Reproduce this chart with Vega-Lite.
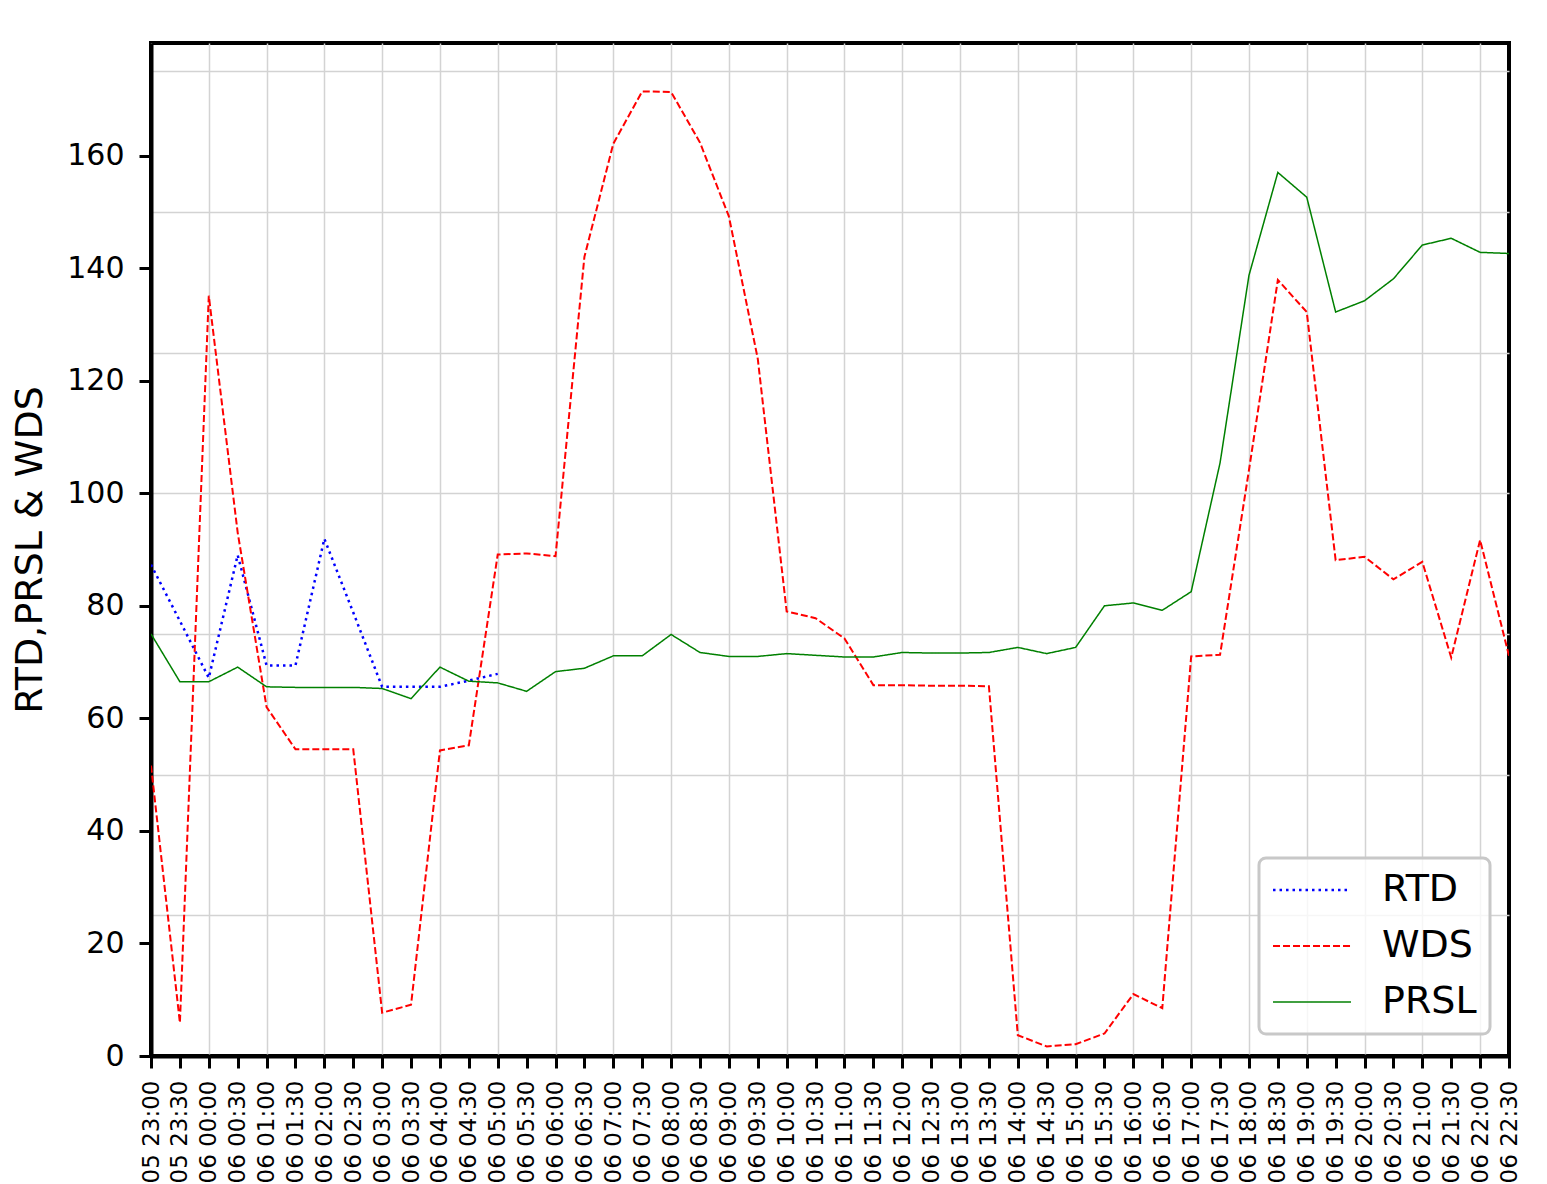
{
  "$schema": "https://vega.github.io/schema/vega-lite/v6.json",
  "width": 1358,
  "height": 1013,
  "autosize": {"type": "none"},
  "padding": {"left": 151, "top": 43, "right": 38, "bottom": 128},
  "background": "white",
  "config": {
    "font": "DejaVu Sans",
    "view": {"stroke": "black", "strokeWidth": 4},
    "axis": {
      "domainColor": "black",
      "domainWidth": 4,
      "tickColor": "black",
      "tickWidth": 3,
      "tickSize": 12,
      "labelColor": "black",
      "titleColor": "black",
      "gridColor": "#d3d3d3",
      "gridWidth": 1.5
    }
  },
  "data": {
    "values": [
      {"t": "05 23:00", "s": "RTD", "v": 87.3},
      {"t": "05 23:30", "s": "RTD", "v": 77.3},
      {"t": "06 00:00", "s": "RTD", "v": 67.2},
      {"t": "06 00:30", "s": "RTD", "v": 89.0},
      {"t": "06 01:00", "s": "RTD", "v": 69.4},
      {"t": "06 01:30", "s": "RTD", "v": 69.4},
      {"t": "06 02:00", "s": "RTD", "v": 91.9},
      {"t": "06 02:30", "s": "RTD", "v": 78.8},
      {"t": "06 03:00", "s": "RTD", "v": 65.6},
      {"t": "06 03:30", "s": "RTD", "v": 65.6},
      {"t": "06 04:00", "s": "RTD", "v": 65.6},
      {"t": "06 04:30", "s": "RTD", "v": 66.7},
      {"t": "06 05:00", "s": "RTD", "v": 67.9},

      {"t": "05 23:00", "s": "WDS", "v": 51.6},
      {"t": "05 23:30", "s": "WDS", "v": 5.9},
      {"t": "06 00:00", "s": "WDS", "v": 135.1},
      {"t": "06 00:30", "s": "WDS", "v": 93.0},
      {"t": "06 01:00", "s": "WDS", "v": 62.0},
      {"t": "06 01:30", "s": "WDS", "v": 54.5},
      {"t": "06 02:00", "s": "WDS", "v": 54.5},
      {"t": "06 02:30", "s": "WDS", "v": 54.5},
      {"t": "06 03:00", "s": "WDS", "v": 7.7},
      {"t": "06 03:30", "s": "WDS", "v": 9.1},
      {"t": "06 04:00", "s": "WDS", "v": 54.3},
      {"t": "06 04:30", "s": "WDS", "v": 55.2},
      {"t": "06 05:00", "s": "WDS", "v": 89.1},
      {"t": "06 05:30", "s": "WDS", "v": 89.3},
      {"t": "06 06:00", "s": "WDS", "v": 88.8},
      {"t": "06 06:30", "s": "WDS", "v": 142.0},
      {"t": "06 07:00", "s": "WDS", "v": 162.1},
      {"t": "06 07:30", "s": "WDS", "v": 171.4},
      {"t": "06 08:00", "s": "WDS", "v": 171.3},
      {"t": "06 08:30", "s": "WDS", "v": 162.3},
      {"t": "06 09:00", "s": "WDS", "v": 149.2},
      {"t": "06 09:30", "s": "WDS", "v": 123.9},
      {"t": "06 10:00", "s": "WDS", "v": 79.0},
      {"t": "06 10:30", "s": "WDS", "v": 77.8},
      {"t": "06 11:00", "s": "WDS", "v": 74.2},
      {"t": "06 11:30", "s": "WDS", "v": 65.9},
      {"t": "06 12:00", "s": "WDS", "v": 65.9},
      {"t": "06 12:30", "s": "WDS", "v": 65.8},
      {"t": "06 13:00", "s": "WDS", "v": 65.8},
      {"t": "06 13:30", "s": "WDS", "v": 65.7},
      {"t": "06 14:00", "s": "WDS", "v": 3.7},
      {"t": "06 14:30", "s": "WDS", "v": 1.7},
      {"t": "06 15:00", "s": "WDS", "v": 2.1},
      {"t": "06 15:30", "s": "WDS", "v": 4.0},
      {"t": "06 16:00", "s": "WDS", "v": 11.0},
      {"t": "06 16:30", "s": "WDS", "v": 8.5},
      {"t": "06 17:00", "s": "WDS", "v": 71.0},
      {"t": "06 17:30", "s": "WDS", "v": 71.3},
      {"t": "06 18:00", "s": "WDS", "v": 104.1},
      {"t": "06 18:30", "s": "WDS", "v": 137.9},
      {"t": "06 19:00", "s": "WDS", "v": 132.2},
      {"t": "06 19:30", "s": "WDS", "v": 88.1},
      {"t": "06 20:00", "s": "WDS", "v": 88.7},
      {"t": "06 20:30", "s": "WDS", "v": 84.7},
      {"t": "06 21:00", "s": "WDS", "v": 87.8},
      {"t": "06 21:30", "s": "WDS", "v": 70.8},
      {"t": "06 22:00", "s": "WDS", "v": 91.7},
      {"t": "06 22:30", "s": "WDS", "v": 71.1},

      {"t": "05 23:00", "s": "PRSL", "v": 75.0},
      {"t": "05 23:30", "s": "PRSL", "v": 66.5},
      {"t": "06 00:00", "s": "PRSL", "v": 66.5},
      {"t": "06 00:30", "s": "PRSL", "v": 69.1},
      {"t": "06 01:00", "s": "PRSL", "v": 65.6},
      {"t": "06 01:30", "s": "PRSL", "v": 65.5},
      {"t": "06 02:00", "s": "PRSL", "v": 65.5},
      {"t": "06 02:30", "s": "PRSL", "v": 65.5},
      {"t": "06 03:00", "s": "PRSL", "v": 65.3},
      {"t": "06 03:30", "s": "PRSL", "v": 63.5},
      {"t": "06 04:00", "s": "PRSL", "v": 69.1},
      {"t": "06 04:30", "s": "PRSL", "v": 66.6},
      {"t": "06 05:00", "s": "PRSL", "v": 66.3},
      {"t": "06 05:30", "s": "PRSL", "v": 64.8},
      {"t": "06 06:00", "s": "PRSL", "v": 68.3},
      {"t": "06 06:30", "s": "PRSL", "v": 68.9},
      {"t": "06 07:00", "s": "PRSL", "v": 71.1},
      {"t": "06 07:30", "s": "PRSL", "v": 71.1},
      {"t": "06 08:00", "s": "PRSL", "v": 74.9},
      {"t": "06 08:30", "s": "PRSL", "v": 71.7},
      {"t": "06 09:00", "s": "PRSL", "v": 71.0},
      {"t": "06 09:30", "s": "PRSL", "v": 71.0},
      {"t": "06 10:00", "s": "PRSL", "v": 71.5},
      {"t": "06 10:30", "s": "PRSL", "v": 71.2},
      {"t": "06 11:00", "s": "PRSL", "v": 70.9},
      {"t": "06 11:30", "s": "PRSL", "v": 70.9},
      {"t": "06 12:00", "s": "PRSL", "v": 71.7},
      {"t": "06 12:30", "s": "PRSL", "v": 71.6},
      {"t": "06 13:00", "s": "PRSL", "v": 71.6},
      {"t": "06 13:30", "s": "PRSL", "v": 71.7},
      {"t": "06 14:00", "s": "PRSL", "v": 72.6},
      {"t": "06 14:30", "s": "PRSL", "v": 71.5},
      {"t": "06 15:00", "s": "PRSL", "v": 72.6},
      {"t": "06 15:30", "s": "PRSL", "v": 80.0},
      {"t": "06 16:00", "s": "PRSL", "v": 80.5},
      {"t": "06 16:30", "s": "PRSL", "v": 79.2},
      {"t": "06 17:00", "s": "PRSL", "v": 82.5},
      {"t": "06 17:30", "s": "PRSL", "v": 105.4},
      {"t": "06 18:00", "s": "PRSL", "v": 138.7},
      {"t": "06 18:30", "s": "PRSL", "v": 157.0},
      {"t": "06 19:00", "s": "PRSL", "v": 152.6},
      {"t": "06 19:30", "s": "PRSL", "v": 132.2},
      {"t": "06 20:00", "s": "PRSL", "v": 134.2},
      {"t": "06 20:30", "s": "PRSL", "v": 138.1},
      {"t": "06 21:00", "s": "PRSL", "v": 144.1},
      {"t": "06 21:30", "s": "PRSL", "v": 145.3},
      {"t": "06 22:00", "s": "PRSL", "v": 142.8},
      {"t": "06 22:30", "s": "PRSL", "v": 142.6}
    ]
  },
  "resolve": {"axis": {"y": "independent"}},
  "layer": [
    {
      "mark": {"type": "point", "opacity": 0},
      "encoding": {
        "y": {
          "field": "v",
          "type": "quantitative",
          "scale": {"domain": [0, 180], "nice": false, "zero": false},
          "axis": {
            "orient": "right",
            "grid": true,
            "values": [25, 50, 75, 100, 125, 150, 175],
            "labels": false,
            "ticks": false,
            "domain": false,
            "title": null
          }
        }
      }
    },
    {
      "mark": {"type": "line", "clip": true},
      "encoding": {
        "x": {
          "field": "t",
          "type": "ordinal",
          "sort": null,
          "scale": {"type": "point", "padding": 0},
          "axis": {
            "title": null,
            "labelAngle": -90,
            "labelFontSize": 23,
            "labelPadding": 12,
            "grid": true,
            "gridOpacity": {
              "condition": {"test": "indexof(datum.value, ':00') >= 0", "value": 1},
              "value": 0
            }
          }
        },
        "y": {
          "field": "v",
          "type": "quantitative",
          "scale": {"domain": [0, 180], "nice": false, "zero": false},
          "axis": {
            "title": "RTD,PRSL & WDS",
            "titleFontSize": 38,
            "titleFontWeight": "normal",
            "titlePadding": 17,
            "values": [0, 20, 40, 60, 80, 100, 120, 140, 160],
            "grid": false,
            "labelFontSize": 30,
            "labelPadding": 15
          }
        },
        "color": {
          "field": "s",
          "type": "nominal",
          "scale": {"domain": ["RTD", "WDS", "PRSL"], "range": ["#0000ff", "#ff0000", "#008000"]},
          "legend": {
            "title": null,
            "orient": "none",
            "legendX": 1108,
            "legendY": 815,
            "symbolType": "M-4,0H4",
            "symbolSize": 380,
            "symbolOffset": 21,
            "labelFontSize": 38,
            "labelOffset": 51,
            "padding": 13,
            "rowPadding": 18,
            "strokeColor": "#c8c8c8",
            "cornerRadius": 7,
            "fillColor": "rgba(255,255,255,0.8)",
            "labelColor": "black",
            "encode": {"legend": {"update": {"strokeWidth": {"value": 3}}}}
          }
        },
        "strokeDash": {
          "field": "s",
          "type": "nominal",
          "scale": {"domain": ["RTD", "WDS", "PRSL"], "range": [[2.5, 4], [7, 3], [1, 0]]}
        },
        "strokeWidth": {
          "field": "s",
          "type": "nominal",
          "scale": {"domain": ["RTD", "WDS", "PRSL"], "range": [2.5, 1.5, 1.8]}
        }
      }
    }
  ]
}
